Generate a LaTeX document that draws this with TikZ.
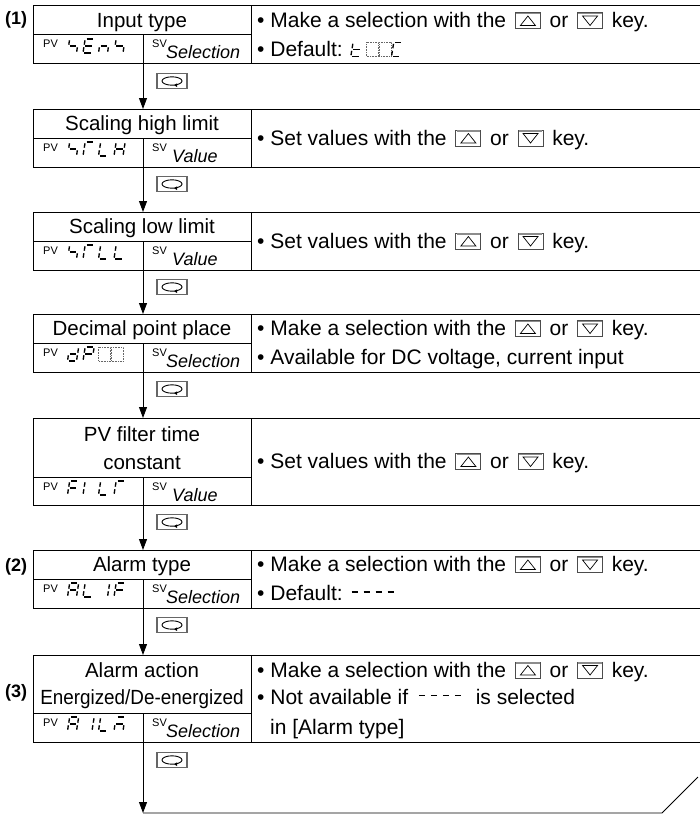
\documentclass[tikz,border=0pt]{standalone}
\usepackage{fontspec}
\setmainfont{Liberation Sans}
\usetikzlibrary{arrows.meta}
\def\sga{(1.3,0)--(7.7,0)}
\def\sgb{(9,1.3)--(9,5.7)}
\def\sgc{(9,8.3)--(9,12.7)}
\def\sgd{(1.3,14)--(7.7,14)}
\def\sge{(0,8.3)--(0,12.7)}
\def\sgf{(0,1.3)--(0,5.7)}
\def\sgg{(1.3,7)--(7.7,7)}
\newcommand\gl[1]{\tikz[x=1pt,y=-1pt,baseline=-14pt,line width=1.35pt]{\path[use as bounding box] (-2.5,0) rectangle (13,14);\begin{scope}[xslant=0.16]\foreach \s in {#1}{\edef\segtmp{\noexpand\draw\csname sg\s\endcsname;}\segtmp}\end{scope}}}
\newcommand\dbox{\tikz[x=1pt,y=-1pt,baseline=-14pt]{\draw[densely dotted,black!60,line width=0.6pt] (0,0) rectangle (12,14);}}
\newcommand\dashes{\tikz[x=1pt,y=-1pt,baseline=-13pt]{\path[use as bounding box] (0,0) rectangle (46,13);\foreach \i in {0,1,2,3}{\draw[line width=1.3pt] ({\i*12+1},4.5)--({\i*12+7.5},4.5);}}}
\newcommand\keybox[1]{\tikz[x=1pt,y=-1pt,baseline=-15pt]{\draw[black!70,line width=0.8pt] (0,0) rectangle (25,16);\draw[black!45,line width=1.5pt] (0.8,1.2)--(24.2,1.2);#1}}
\newcommand\upk{\hspace{3pt}\keybox{\draw[line width=0.7pt] (5,13)--(20,13)--(12.5,3.5)--cycle;}\hspace{3pt}}
\newcommand\dnk{\hspace{3pt}\keybox{\draw[line width=0.7pt] (5,3.5)--(20,3.5)--(12.5,13)--cycle;}\hspace{3pt}}
\newcommand\loopkey[2]{%
  \node[loopk] (#1) at (172,#2) {};
  \draw[line width=0.9pt] (#1.center) ellipse [x radius=10, y radius=4.2];
  \fill ([xshift=2pt,yshift=-4.2pt]#1.center) -- ++(3,1.8) -- ++(0,-3.6) -- cycle;}
\begin{document}
\begin{tikzpicture}[x=1pt,y=-1pt,
 cell/.style={draw, line width=1pt, inner sep=0pt, outer sep=0pt, anchor=north west},
 ttl/.style={anchor=base, inner sep=0pt, font=\fontsize{20.5}{24}\selectfont},
 dsc/.style={anchor=base west, inner sep=0pt, font=\fontsize{21}{25}\selectfont},
 lbl/.style={anchor=base west, inner sep=0pt, font=\fontsize{11}{13}\selectfont},
 sv/.style={anchor=base west, inner sep=0pt, font=\fontsize{18}{22}\selectfont\itshape},
 glyphs/.style={anchor=base west, inner sep=0pt},
 num/.style={anchor=base west, inner sep=0pt, font=\fontsize{18}{22}\selectfont\bfseries},
 arr/.style={-{Triangle[length=11pt,width=8pt]}, line width=0.9pt},
 loopk/.style={draw=black!60, line width=1.3pt, minimum width=30pt, minimum height=15pt, inner sep=0pt}]
\useasboundingbox (0,0) rectangle (699,816);
% ---------- block 1
\node[cell, minimum width=218pt, minimum height=29pt] (t1) at (33,6) {};
\node[cell, minimum width=110pt, minimum height=29pt] (p1) at (33,35) {};
\node[cell, minimum width=108pt, minimum height=29pt] (s1) at (143,35) {};
\node[cell, minimum width=452pt, minimum height=58pt] (d1) at (251,6) {};
\node[num] (n1) at (5,25) {(1)};
\node[ttl] (tt1) at (142,27.5) {Input type};
\node[lbl] (pl1) at (43,48) {PV};
\node[glyphs] (g1) at (67,53) {\gl{f,g,c}\gl{a,d,e,f,g}\gl{c,e,g}\gl{f,g,c}};
\node[lbl] (sl1) at (152,48) {SV};
\node[sv] (sv1) at (166,59) {Selection};
\node[dsc] (da1) at (257,27.5) {• Make a selection with the \upk{} or \dnk{} key.};
\node[dsc] (db1) at (257,56.5) {• Default: \gl{d,e,f,g}\dbox\dbox\gl{a,d,e,f}};
\loopkey{k1}{81}
% ---------- block 2
\node[cell, minimum width=218pt, minimum height=29pt] (t2) at (33,109) {};
\node[cell, minimum width=110pt, minimum height=29pt] (p2) at (33,138) {};
\node[cell, minimum width=108pt, minimum height=29pt] (s2) at (143,138) {};
\node[cell, minimum width=452pt, minimum height=58pt] (d2) at (251,109) {};
\node[ttl] (tt2) at (142,130.5) {Scaling high limit};
\node[lbl] (pl2) at (43,151) {PV};
\node[glyphs] (g2) at (67,156) {\gl{f,g,c}\gl{a,e,f}\gl{d,e,f}\gl{b,c,e,f,g}};
\node[lbl] (sl2) at (152,151) {SV};
\node[sv] (sv2) at (172,162) {Value};
\node[dsc] (da2) at (257,145) {• Set values with the \upk{} or \dnk{} key.};
\loopkey{k2}{184}
% ---------- block 3
\node[cell, minimum width=218pt, minimum height=29pt] (t3) at (33,212) {};
\node[cell, minimum width=110pt, minimum height=29pt] (p3) at (33,241) {};
\node[cell, minimum width=108pt, minimum height=29pt] (s3) at (143,241) {};
\node[cell, minimum width=452pt, minimum height=58pt] (d3) at (251,212) {};
\node[ttl] (tt3) at (142,233.5) {Scaling low limit};
\node[lbl] (pl3) at (43,254) {PV};
\node[glyphs] (g3) at (67,259) {\gl{f,g,c}\gl{a,e,f}\gl{d,e,f}\gl{d,e,f}};
\node[lbl] (sl3) at (152,254) {SV};
\node[sv] (sv3) at (172,265) {Value};
\node[dsc] (da3) at (257,248) {• Set values with the \upk{} or \dnk{} key.};
\loopkey{k3}{287}
% ---------- block 4
\node[cell, minimum width=218pt, minimum height=29pt] (t4) at (33,314) {};
\node[cell, minimum width=110pt, minimum height=29pt] (p4) at (33,343) {};
\node[cell, minimum width=108pt, minimum height=29pt] (s4) at (143,343) {};
\node[cell, minimum width=452pt, minimum height=58pt] (d4) at (251,314) {};
\node[ttl] (tt4) at (142,335.5) {Decimal point place};
\node[lbl] (pl4) at (43,356) {PV};
\node[glyphs] (g4) at (67,361) {\gl{b,c,d,e,g}\gl{a,b,e,f,g}\dbox\dbox};
\node[lbl] (sl4) at (152,356) {SV};
\node[sv] (sv4) at (166,367) {Selection};
\node[dsc] (da4) at (257,335.5) {• Make a selection with the \upk{} or \dnk{} key.};
\node[dsc] (db4) at (257,364.5) {• Available for DC voltage, current input};
\loopkey{k4}{389}
% ---------- block 5
\node[cell, minimum width=218pt, minimum height=59pt] (t5) at (33,418) {};
\node[cell, minimum width=110pt, minimum height=28pt] (p5) at (33,477) {};
\node[cell, minimum width=108pt, minimum height=28pt] (s5) at (143,477) {};
\node[cell, minimum width=452pt, minimum height=87pt] (d5) at (251,418) {};
\node[ttl] (tt5a) at (142,441) {PV filter time};
\node[ttl] (tt5b) at (142,469) {constant};
\node[lbl] (pl5) at (43,490) {PV};
\node[glyphs] (g5) at (67,495) {\gl{a,e,f,g}\gl{e,f}\gl{d,e,f}\gl{a,e,f}};
\node[lbl] (sl5) at (152,490) {SV};
\node[sv] (sv5) at (172,501) {Value};
\node[dsc] (da5) at (257,468.5) {• Set values with the \upk{} or \dnk{} key.};
\loopkey{k5}{522}
% ---------- block 6
\node[cell, minimum width=218pt, minimum height=29pt] (t6) at (33,550) {};
\node[cell, minimum width=110pt, minimum height=29pt] (p6) at (33,579) {};
\node[cell, minimum width=108pt, minimum height=29pt] (s6) at (143,579) {};
\node[cell, minimum width=452pt, minimum height=58pt] (d6) at (251,550) {};
\node[num] (n2) at (5,571.5) {(2)};
\node[ttl] (tt6) at (142,571.5) {Alarm type};
\node[lbl] (pl6) at (43,592) {PV};
\node[glyphs] (g6) at (67,597) {\gl{a,b,c,e,f,g}\gl{d,e,f}\gl{b,c}\gl{a,e,f,g}};
\node[lbl] (sl6) at (152,592) {SV};
\node[sv] (sv6) at (166,603) {Selection};
\node[dsc] (da6) at (257,571.5) {• Make a selection with the \upk{} or \dnk{} key.};
\node[dsc] (db6) at (257,600.5) {• Default: \dashes};
\loopkey{k6}{625}
% ---------- block 7
\node[cell, minimum width=218pt, minimum height=58pt] (t7) at (33,655) {};
\node[cell, minimum width=110pt, minimum height=29pt] (p7) at (33,713) {};
\node[cell, minimum width=108pt, minimum height=29pt] (s7) at (143,713) {};
\node[cell, minimum width=452pt, minimum height=87pt] (d7) at (251,655) {};
\node[num] (n3) at (5,697) {(3)};
\node[ttl] (tt7a) at (142,677) {Alarm action};
\node[ttl] (tt7b) at (142,704) {\scalebox{0.92}[1]{Energized/De-energized}};
\node[lbl] (pl7) at (43,726) {PV};
\node[glyphs] (g7) at (67,731) {\gl{a,b,c,e,f,g}\gl{b,c}\gl{d,e,f}\gl{a,c,e,g}};
\node[lbl] (sl7) at (152,726) {SV};
\node[sv] (sv7) at (166,737) {Selection};
\node[dsc] (da7) at (257,677) {• Make a selection with the \upk{} or \dnk{} key.};
\node[dsc] (db7) at (257,704) {• Not available if \hspace{4pt}\dashes\hspace{6pt} is selected};
\node[dsc] (dc7) at (270,734.5) {in [Alarm type]};
\loopkey{k7}{760}
% ---------- connectors
\draw[arr] (p1.south east) -- (p1.south east |- t2.north);
\draw[arr] (p2.south east) -- (p2.south east |- t3.north);
\draw[arr] (p3.south east) -- (p3.south east |- t4.north);
\draw[arr] (p4.south east) -- (p4.south east |- t5.north);
\draw[arr] (p5.south east) -- (p5.south east |- t6.north);
\draw[arr] (p6.south east) -- (p6.south east |- t7.north);
\coordinate (endpt) at (143,813);
\coordinate (cut1) at (662,813);
\coordinate (cut2) at (698,777);
\draw[arr] (p7.south east) -- (endpt);
\draw[line width=0.9pt] (endpt) -- (cut1) -- (cut2);
\end{tikzpicture}
\end{document}
